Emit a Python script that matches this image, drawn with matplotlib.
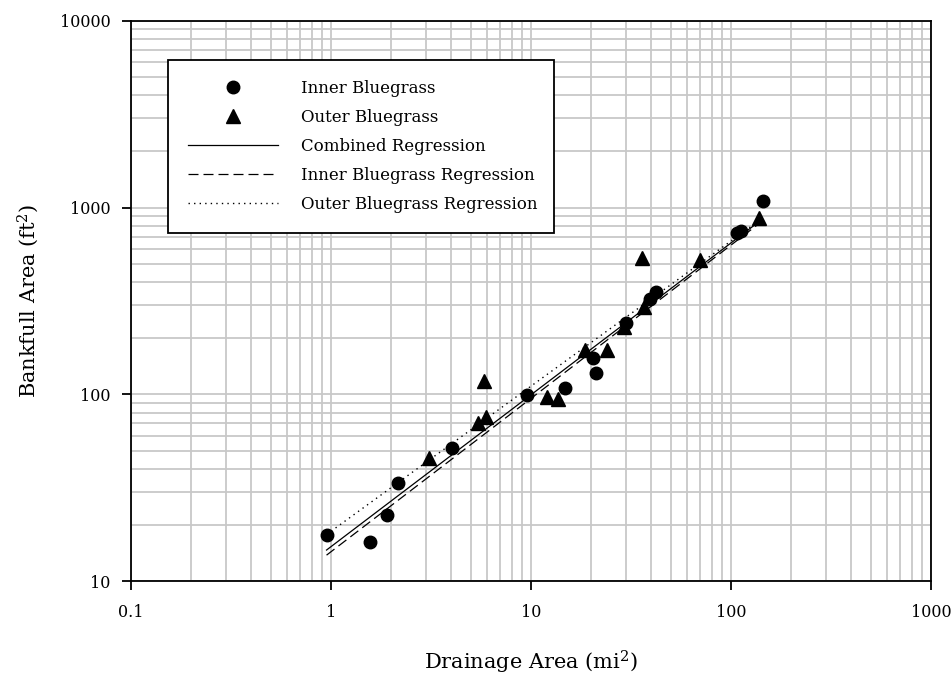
import matplotlib
matplotlib.use("Agg")
import matplotlib.pyplot as plt
from matplotlib.ticker import LogLocator, NullFormatter

plt.rcParams['font.family'] = ['DejaVu Serif']
plt.rcParams['mathtext.fontset'] = 'dejavuserif'

# Inner Bluegrass data (drainage area mi^2, bankfull area ft^2)
inner_x = [0.955, 1.57, 1.90, 2.16, 4.03, 9.5, 14.8, 20.4, 21.1, 29.9, 39.4, 42.2, 107, 112, 144.5]
inner_y = [17.7, 16.3, 22.6, 33.6, 51.6, 99, 108, 157, 130, 241, 324, 353, 735, 750, 1080]

# Outer Bluegrass data
outer_x = [3.09, 5.43, 5.96, 5.82, 12.0, 13.6, 18.6, 24.0, 29.2, 35.9, 36.7, 70.0, 138]
outer_y = [45.7, 70.4, 75.8, 118, 96.9, 94.5, 173, 173, 229, 537, 293, 524, 879]

# Regression line endpoints
reg_x = [0.95, 140]
comb_y = [14.7, 850]
inner_reg_y = [13.8, 830]
outer_reg_y = [17.8, 860]

xticks = [0.1, 1, 10, 100, 1000]
xticklabels = ['0.1', '1', '10', '100', '1000']
yticks = [10, 100, 1000, 10000]
yticklabels = ['10', '100', '1000', '10000']

fig = plt.figure(figsize=(9.53, 6.77), dpi=100)
ax = fig.add_axes([131/953, 1-581.3/677, 800/953, 560.6/677])
ax.set_xscale('log')
ax.set_yscale('log')
ax.set_xlim(0.1, 1000)
ax.set_ylim(10, 10000)

grid_c = '#c8c8c8'
ax.xaxis.set_minor_locator(LogLocator(base=10, subs=range(2, 10), numticks=20))
ax.yaxis.set_minor_locator(LogLocator(base=10, subs=range(2, 10), numticks=20))
ax.grid(True, which='both', color=grid_c, linewidth=1.3, zorder=0)
ax.set_axisbelow(True)

ax.set_xticks(xticks)
ax.set_xticklabels(xticklabels)
ax.set_yticks(yticks)
ax.set_yticklabels(yticklabels)
ax.xaxis.set_minor_formatter(NullFormatter())
ax.yaxis.set_minor_formatter(NullFormatter())
ax.tick_params(which='major', direction='out', length=6.5, width=1.3, labelsize=11.5,
               top=False, right=False)
ax.tick_params(axis='x', which='major', pad=10)
ax.tick_params(axis='y', which='major', pad=8)
ax.tick_params(which='minor', length=0)
for s in ax.spines.values():
    s.set_linewidth(1.3)
    s.set_color('black')

l3, = ax.plot(reg_x, comb_y, color='black', lw=0.9, ls='-', zorder=3, label='Combined Regression')
l4, = ax.plot(reg_x, inner_reg_y, color='black', lw=0.9, ls=(0, (8, 4)), zorder=3, label='Inner Bluegrass Regression')
l5, = ax.plot(reg_x, outer_reg_y, color='black', lw=1.0, ls=(0, (1, 3)), zorder=3, label='Outer Bluegrass Regression')
l1, = ax.plot(inner_x, inner_y, ls='none', marker='o', ms=9, color='black', zorder=4, label='Inner Bluegrass')
l2, = ax.plot(outer_x, outer_y, ls='none', marker='^', ms=9.5, color='black', zorder=4, label='Outer Bluegrass')

ax.set_xlabel('Drainage Area (mi$^2$)', fontsize=15, labelpad=20)
ax.set_ylabel('Bankfull Area (ft$^2$)', fontsize=15, labelpad=14)

x0 = (168-131)/800
top = 1 - (60-20.7)/560.6
w = (554-168)/800
leg = ax.legend(handles=[l1, l2, l3, l4, l5], loc='upper left',
                bbox_to_anchor=(x0, top - 0.303, w, 0.303), mode='expand',
                borderaxespad=0, fontsize=12, frameon=True, fancybox=False,
                edgecolor='black', framealpha=1, handlelength=5.4, handletextpad=1.4,
                labelspacing=0.72, borderpad=1.2, numpoints=1)
leg.get_frame().set_linewidth(1.3)
leg.set_zorder(5)

fig.savefig('out.png', dpi=100)
